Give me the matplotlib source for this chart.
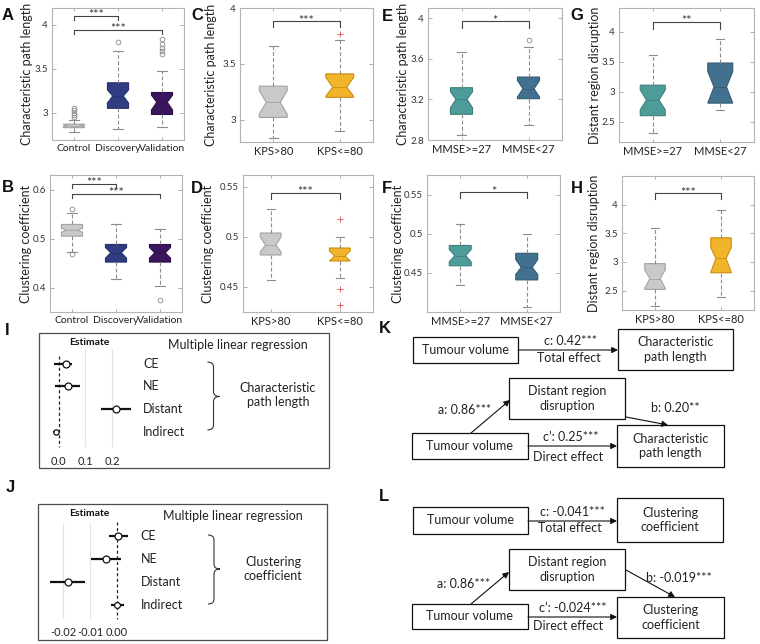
import matplotlib
matplotlib.use('Agg')
import matplotlib.pyplot as plt
from matplotlib.patches import Rectangle, PathPatch
from matplotlib.path import Path

# ------------------------------------------------------------------ data
A_labels = ['Control', 'Discovery', 'Validation']
A_stats = [[2.78, 2.83, 2.85, 2.87, 2.92],
           [2.82, 3.05, 3.19, 3.34, 3.70],
           [2.84, 2.98, 3.12, 3.23, 3.47]]
A_notch = [[2.84, 2.86], [3.11, 3.26], [3.03, 3.20]]
A_fliers = [[2.95, 2.97, 3.00, 3.03, 3.05], [3.80], [3.67, 3.70, 3.74, 3.78, 3.84]]

B_labels = ['Control', 'Discovery', 'Validation']
B_stats = [[0.473, 0.505, 0.517, 0.529, 0.552],
           [0.418, 0.452, 0.471, 0.488, 0.529],
           [0.403, 0.452, 0.471, 0.488, 0.519]]
B_notch = [[0.513, 0.521], [0.460, 0.482], [0.460, 0.482]]
B_fliers = [[0.468, 0.561], [], [0.374]]

C_labels = ['KPS>80', 'KPS<=80']
C_stats = [[2.84, 3.02, 3.155, 3.30, 3.66], [2.90, 3.20, 3.29, 3.41, 3.71]]
C_notch = [[3.05, 3.26], [3.21, 3.38]]
C_fliers = [[], [3.77]]

D_labels = ['KPS>80', 'KPS<=80']
D_stats = [[0.457, 0.482, 0.492, 0.504, 0.528], [0.459, 0.476, 0.481, 0.489, 0.500]]
D_notch = [[0.485, 0.500], [0.476, 0.486]]
D_fliers = [[], [0.518, 0.448, 0.432]]

E_labels = ['MMSE>=27', 'MMSE<27']
E_stats = [[2.846, 3.053, 3.20, 3.315, 3.665], [2.944, 3.207, 3.305, 3.42, 3.714]]
E_notch = [[3.118, 3.276], [3.223, 3.387]]
E_fliers = [[], [3.78]]

F_labels = ['MMSE>=27', 'MMSE<27']
F_stats = [[0.435, 0.459, 0.472, 0.485, 0.513], [0.407, 0.441, 0.457, 0.475, 0.499]]
F_notch = [[0.464, 0.480], [0.448, 0.467]]
F_fliers = [[], []]

G_labels = ['MMSE>=27', 'MMSE<27']
G_stats = [[2.31, 2.60, 2.86, 3.11, 3.62], [2.70, 2.81, 3.08, 3.48, 3.89]]
G_notch = [[2.70, 3.03], [2.81, 3.34]]
G_fliers = [[], []]

H_labels = ['KPS>80', 'KPS<=80']
H_stats = [[2.23, 2.52, 2.71, 2.97, 3.59], [2.39, 2.81, 3.06, 3.42, 3.90]]
H_notch = [[2.54, 2.86], [2.82, 3.25]]
H_fliers = [[], []]

forest_rows = ['CE', 'NE', 'Distant', 'Indirect']
I_est = [0.028, 0.035, 0.216, -0.009]
I_lo = [-0.016, -0.012, 0.160, -0.020]
I_hi = [0.050, 0.081, 0.270, 0.003]
I_ticks = [0.0, 0.1, 0.2]
I_ticklabels = ['0.0', '0.1', '0.2']

J_est = [0.0006, -0.0040, -0.0184, 0.0]
J_lo = [-0.0030, -0.0097, -0.0251, -0.0020]
J_hi = [0.0044, 0.0015, -0.0120, 0.0028]
J_ticks = [-0.02, -0.01, 0.0]
J_ticklabels = ['-0.02', '-0.01', '0.00']

K_paths = ['c: 0.42***', 'a: 0.86***', 'b: 0.20**', 'c\u2019: 0.25***']
L_paths = ['c: -0.041***', 'a: 0.86***', 'b: -0.019***', 'c\u2019: -0.024***']

# ------------------------------------------------------------------ setup
plt.rcParams['font.family'] = ['Lato', 'DejaVu Sans']
W, H = 760, 644
fig = plt.figure(figsize=(W / 100, H / 100), dpi=100)

ov = fig.add_axes([0, 0, 1, 1], zorder=0)
ov.set_xlim(0, W)
ov.set_ylim(H, 0)
ov.axis('off')


def add_ax(l, t, r, b, z=2):
    return fig.add_axes([l / W, 1 - b / H, (r - l) / W, (b - t) / H], zorder=z)


GRAY_F, GRAY_E = '#c9c9c9', '#a3a3a3'
NAVY_F, NAVY_E = '#313d82', '#27306a'
PURP_F, PURP_E = '#3a165e', '#2c104a'
ORNG_F, ORNG_E = '#f2b42a', '#c98f12'
TEAL_F, TEAL_E = '#4e9c98', '#3d807c'
BLUE_F, BLUE_E = '#42718f', '#335a74'

circ = dict(marker='o', mfc='none', mec='#8a8a8a', ms=3.4, mew=0.6, ls='none')
plus = dict(marker='+', mfc='none', mec='#e06666', ms=4.2, mew=0.7, ls='none')


def box_panel(rect, labels, stats, notch, fliers, faces, edges, ylim, yticks,
              ytl, ylabel, ylab_x, xlim, width, capw, fl_style, brackets, xfs=8):
    l, t, r, b = rect
    ax = add_ax(*rect)
    bs = []
    for lab, s, ci, fl in zip(labels, stats, notch, fliers):
        bs.append(dict(label=lab, whislo=s[0], q1=s[1], med=s[2], q3=s[3],
                       whishi=s[4], cilo=ci[0], cihi=ci[1], fliers=fl))
    pos = list(range(1, len(labels) + 1))
    art = ax.bxp(bs, positions=pos, widths=width, shownotches=True,
                 patch_artist=True, capwidths=capw,
                 whiskerprops=dict(color='#8c8c8c', lw=0.8, ls=(0, (3.5, 2))),
                 capprops=dict(color='#8c8c8c', lw=0.8),
                 medianprops=dict(lw=0.6),
                 flierprops=fl_style)
    for p, fc, ec in zip(art['boxes'], faces, edges):
        p.set_facecolor(fc)
        p.set_edgecolor(ec)
        p.set_linewidth(0.8)
    for m, ec in zip(art['medians'], edges):
        m.set_color(ec)
    ax.set_xlim(*xlim)
    ax.set_ylim(*ylim)
    ax.set_yticks(yticks)
    ax.set_yticklabels(ytl)
    ax.tick_params(axis='y', direction='in', length=3, width=0.6, colors='#a0a0a0',
                   labelcolor='#333333', labelsize=7, right=True, pad=3)
    ax.tick_params(axis='x', direction='in', length=2, width=0.6, colors='#a0a0a0',
                   labelcolor='#222222', labelsize=xfs, top=True, pad=3)
    for sp in ax.spines.values():
        sp.set_color('#b3b3b3')
        sp.set_linewidth(0.8)
    ax.set_ylabel(ylabel, fontsize=9, color='#222222', va='center')
    ax.yaxis.set_label_coords((ylab_x - l) / (r - l), 0.5)
    for (x1, x2, yb, tpx, txt) in brackets:
        dy = tpx * (ylim[1] - ylim[0]) / (b - t)
        ax.plot([x1, x1, x2, x2], [yb - dy, yb, yb, yb - dy], color='#444444',
                lw=0.8, clip_on=False)
        ax.annotate(txt, ((x1 + x2) / 2, yb), xytext=(0, -2.5),
                    textcoords='offset points', ha='center', va='baseline',
                    fontsize=9, color='#333333', annotation_clip=False)
    return ax


box_panel((52, 8, 184, 140), A_labels, A_stats, A_notch, A_fliers,
          [GRAY_F, NAVY_F, PURP_F], [GRAY_E, NAVY_E, PURP_E],
          (2.69, 4.19), [3, 3.5, 4], ['3', '3.5', '4'],
          'Characteristic path length', 27.5, (0.5, 3.5), 0.48, 0.22, circ,
          [(1, 2, 4.10, 4, '***'), (1, 3, 3.94, 4, '***')], xfs=7.5)
box_panel((50, 175, 182, 312), B_labels, B_stats, B_notch, B_fliers,
          [GRAY_F, NAVY_F, PURP_F], [GRAY_E, NAVY_E, PURP_E],
          (0.35, 0.63), [0.4, 0.5, 0.6], ['0.4', '0.5', '0.6'],
          'Clustering coefficient', 26, (0.5, 3.5), 0.48, 0.22, circ,
          [(1, 2, 0.612, 4, '***'), (1, 3, 0.592, 4, '***')], xfs=7.5)
box_panel((240, 8, 373, 142), C_labels, C_stats, C_notch, C_fliers,
          [GRAY_F, ORNG_F], [GRAY_E, ORNG_E],
          (2.8, 4.0), [3, 3.5, 4], ['3', '3.5', '4'],
          'Characteristic path length', 211, (0.5, 2.5), 0.42, 0.14, plus,
          [(1, 2, 3.88, 6, '***')])
box_panel((243, 175, 373, 312), D_labels, D_stats, D_notch, D_fliers,
          [GRAY_F, ORNG_F], [GRAY_E, ORNG_E],
          (0.425, 0.562), [0.45, 0.5, 0.55], ['0.45', '0.5', '0.55'],
          'Clustering coefficient', 208, (0.6, 2.48), 0.3, 0.12, plus,
          [(1, 2, 0.544, 6, '***')])
box_panel((428, 8, 562, 140), E_labels, E_stats, E_notch, E_fliers,
          [TEAL_F, BLUE_F], [TEAL_E, BLUE_E],
          (2.8, 4.1), [2.8, 3.2, 3.6, 4.0], ['2.8', '3.2', '3.6', '4'],
          'Characteristic path length', 403, (0.5, 2.5), 0.33, 0.12, circ,
          [(1, 2, 3.97, 7, '*')])
box_panel((427, 175, 560, 312), F_labels, F_stats, F_notch, F_fliers,
          [TEAL_F, BLUE_F], [TEAL_E, BLUE_E],
          (0.40, 0.575), [0.45, 0.5, 0.55], ['0.45', '0.5', '0.55'],
          'Clustering coefficient', 398.5, (0.5, 2.5), 0.33, 0.12, circ,
          [(1, 2, 0.553, 6, '*')])
box_panel((619, 8, 754, 142), G_labels, G_stats, G_notch, G_fliers,
          [TEAL_F, BLUE_F], [TEAL_E, BLUE_E],
          (2.16, 4.40), [2.5, 3, 3.5, 4], ['2.5', '3', '3.5', '4'],
          'Distant region disruption', 595, (0.5, 2.5), 0.37, 0.12, circ,
          [(1, 2, 4.17, 7, '**')])
box_panel((622, 176, 754, 310), H_labels, H_stats, H_notch, H_fliers,
          [GRAY_F, ORNG_F], [GRAY_E, ORNG_E],
          (2.16, 4.50), [2.5, 3, 3.5, 4], ['2.5', '3', '3.5', '4'],
          'Distant region disruption', 594, (0.5, 2.5), 0.31, 0.12, circ,
          [(1, 2, 4.20, 6, '***')])


# ------------------------------------------------------------------ forest plots
def forest(rect, xlim, row0, rstep, est, lo, hi, ticks, tls, gray_x, gray_span,
           dash_span, label_px_x, zero_px, ppu, tick_pad, frame, title_y, est_x,
           title_x, brace, brace_text, brace_text_xy, msizes):
    l, t, r, b = rect
    ax = add_ax(*rect, z=3)
    ax.patch.set_alpha(0)
    for sp in ax.spines.values():
        sp.set_visible(False)
    ax.set_xlim(*xlim)
    ylo = (t - row0) / rstep
    yhi = (b - row0) / rstep
    ax.set_ylim(yhi, ylo)
    g0, g1 = [(v - row0) / rstep for v in gray_span]
    d0, d1 = [(v - row0) / rstep for v in dash_span]
    ax.vlines(gray_x, g0, g1, color='#e3e3e3', lw=0.9, zorder=1)
    ax.vlines([0], d0, d1, color='#222222', lw=0.9, linestyles=(0, (2.5, 2)), zorder=2)
    rows = list(range(len(est)))
    ax.hlines(rows, lo, hi, color='#111111', lw=1.6, zorder=3)
    for i in rows:
        ax.plot([est[i]], [i], ls='none', marker='o', ms=msizes[i], mfc='white',
                mec='#111111', mew=0.9, zorder=4)
    ax.set_yticks([])
    ax.set_xticks(ticks)
    ax.set_xticklabels(tls)
    ax.tick_params(axis='x', length=0, labelsize=8, labelcolor='#222222', pad=tick_pad)
    lx = (label_px_x - zero_px) / ppu
    for i, name in enumerate(forest_rows):
        ax.text(lx, i, name, ha='left', va='center', fontsize=9, color='#222222',
                clip_on=False)
    fl, ft, fr, fb = frame
    ov.add_patch(Rectangle((fl, ft), fr - fl, fb - ft, fill=False, ec='#4d4d4d', lw=0.9))
    ov.text(est_x, title_y, 'Estimate', ha='center', va='center', fontsize=7.5,
            fontweight='bold', color='#111111')
    ov.text(title_x, title_y + 3, 'Multiple linear regression', ha='center',
            va='center', fontsize=9, color='#222222')
    bx, ytop, ymid, ybot = brace
    k = 5
    verts = [(bx - 6, ytop), (bx, ytop), (bx, ytop + k),
             (bx, ymid - k), (bx, ymid), (bx + 6, ymid),
             (bx, ymid), (bx, ymid + k),
             (bx, ybot - k), (bx, ybot), (bx - 6, ybot)]
    codes = [Path.MOVETO, Path.CURVE3, Path.CURVE3,
             Path.LINETO, Path.CURVE3, Path.CURVE3,
             Path.CURVE3, Path.CURVE3,
             Path.LINETO, Path.CURVE3, Path.CURVE3]
    ov.add_patch(PathPatch(Path(verts, codes), fill=False, ec='#333333', lw=0.8))
    ov.text(brace_text_xy[0], brace_text_xy[1], brace_text, ha='center', va='center',
            fontsize=9, color='#222222', linespacing=1.2)


forest((40, 348, 140, 448), ((40 - 58.5) / 267, (140 - 58.5) / 267),
       363.5, 22.67, I_est, I_lo, I_hi, I_ticks, I_ticklabels, [0.1, 0.2],
       (349, 447), (356, 447), 143, 58.5, 267, 6,
       (38.5, 332.5, 328.5, 467.5), 342, 89, 238,
       (213.5, 362, 396.5, 430), 'Characteristic\npath length', (278, 395),
       [5, 5, 5, 3.8])
forest((40, 520, 140, 620), ((40 - 116.7) / 2670, (140 - 116.7) / 2670),
       535.6, 23.15, J_est, J_lo, J_hi, J_ticks, J_ticklabels, [-0.02, -0.01],
       (523, 618), (522, 619), 140.7, 116.7, 2670, 5,
       (37.5, 504, 326.5, 640), 513, 89, 233,
       (214, 535, 569, 604), 'Clustering\ncoefficient', (273, 569.5),
       [5, 5, 5, 4.2])


# ------------------------------------------------------------------ mediation diagrams
def box(l, t, r, b, txt):
    ov.add_patch(Rectangle((l, t), r - l, b - t, fill=True, fc='white', ec='#111111', lw=0.9))
    ov.text((l + r) / 2, (t + b) / 2, txt, ha='center', va='center', fontsize=9,
            color='#222222', linespacing=1.25)


def arrow(x0, y0, x1, y1):
    ov.annotate('', xy=(x1, y1), xytext=(x0, y0),
                arrowprops=dict(arrowstyle='-|>', lw=0.8, color='#111111',
                                mutation_scale=9, shrinkA=0, shrinkB=0))


def lab(x, y, txt):
    ov.text(x, y, txt, ha='center', va='center', fontsize=9, color='#222222')


# K
box(413, 337, 518, 363, 'Tumour volume')
box(618, 329, 733, 370, 'Characteristic\npath length')
arrow(518, 350, 618, 350)
lab(570, 341, K_paths[0])
lab(569, 358, 'Total effect')
box(509, 378, 625, 419, 'Distant region\ndisruption')
box(412, 433, 528, 459, 'Tumour volume')
box(617, 425, 724, 467, 'Characteristic\npath length')
arrow(471, 433, 510, 400)
arrow(626, 417, 668, 425)
arrow(528, 446, 617, 446)
lab(465, 410, K_paths[1])
lab(675, 408, K_paths[2])
lab(571, 437, K_paths[3])
lab(568, 457, 'Direct effect')

# L
box(413, 507, 528, 534, 'Tumour volume')
box(617, 498, 723, 542, 'Clustering\ncoefficient')
arrow(528, 521, 617, 521)
lab(572, 512, L_paths[0])
lab(569.5, 528.5, 'Total effect')
box(509, 549, 625, 590, 'Distant region\ndisruption')
box(412, 604, 528, 629, 'Tumour volume')
box(617, 597, 724, 638, 'Clustering\ncoefficient')
arrow(471, 604, 509, 572)
arrow(626, 570, 675, 597)
arrow(528, 617, 617, 617)
lab(464, 584, L_paths[1])
lab(679, 577.5, L_paths[2])
lab(572.5, 607.5, L_paths[3])
lab(568, 626, 'Direct effect')

# ------------------------------------------------------------------ panel letters
letters = [('A', 8, 15), ('B', 8, 187), ('C', 197, 15), ('D', 197, 188),
           ('E', 387, 16), ('F', 387, 188), ('G', 577, 15), ('H', 577, 188),
           ('I', 7, 330), ('J', 10, 487), ('K', 385, 328), ('L', 384, 496)]
for s, x, y in letters:
    ov.text(x, y, s, ha='center', va='center', fontsize=12, fontweight='bold',
            family=['Liberation Sans', 'DejaVu Sans'], color='#111111')

fig.savefig('out.png', dpi=100)
